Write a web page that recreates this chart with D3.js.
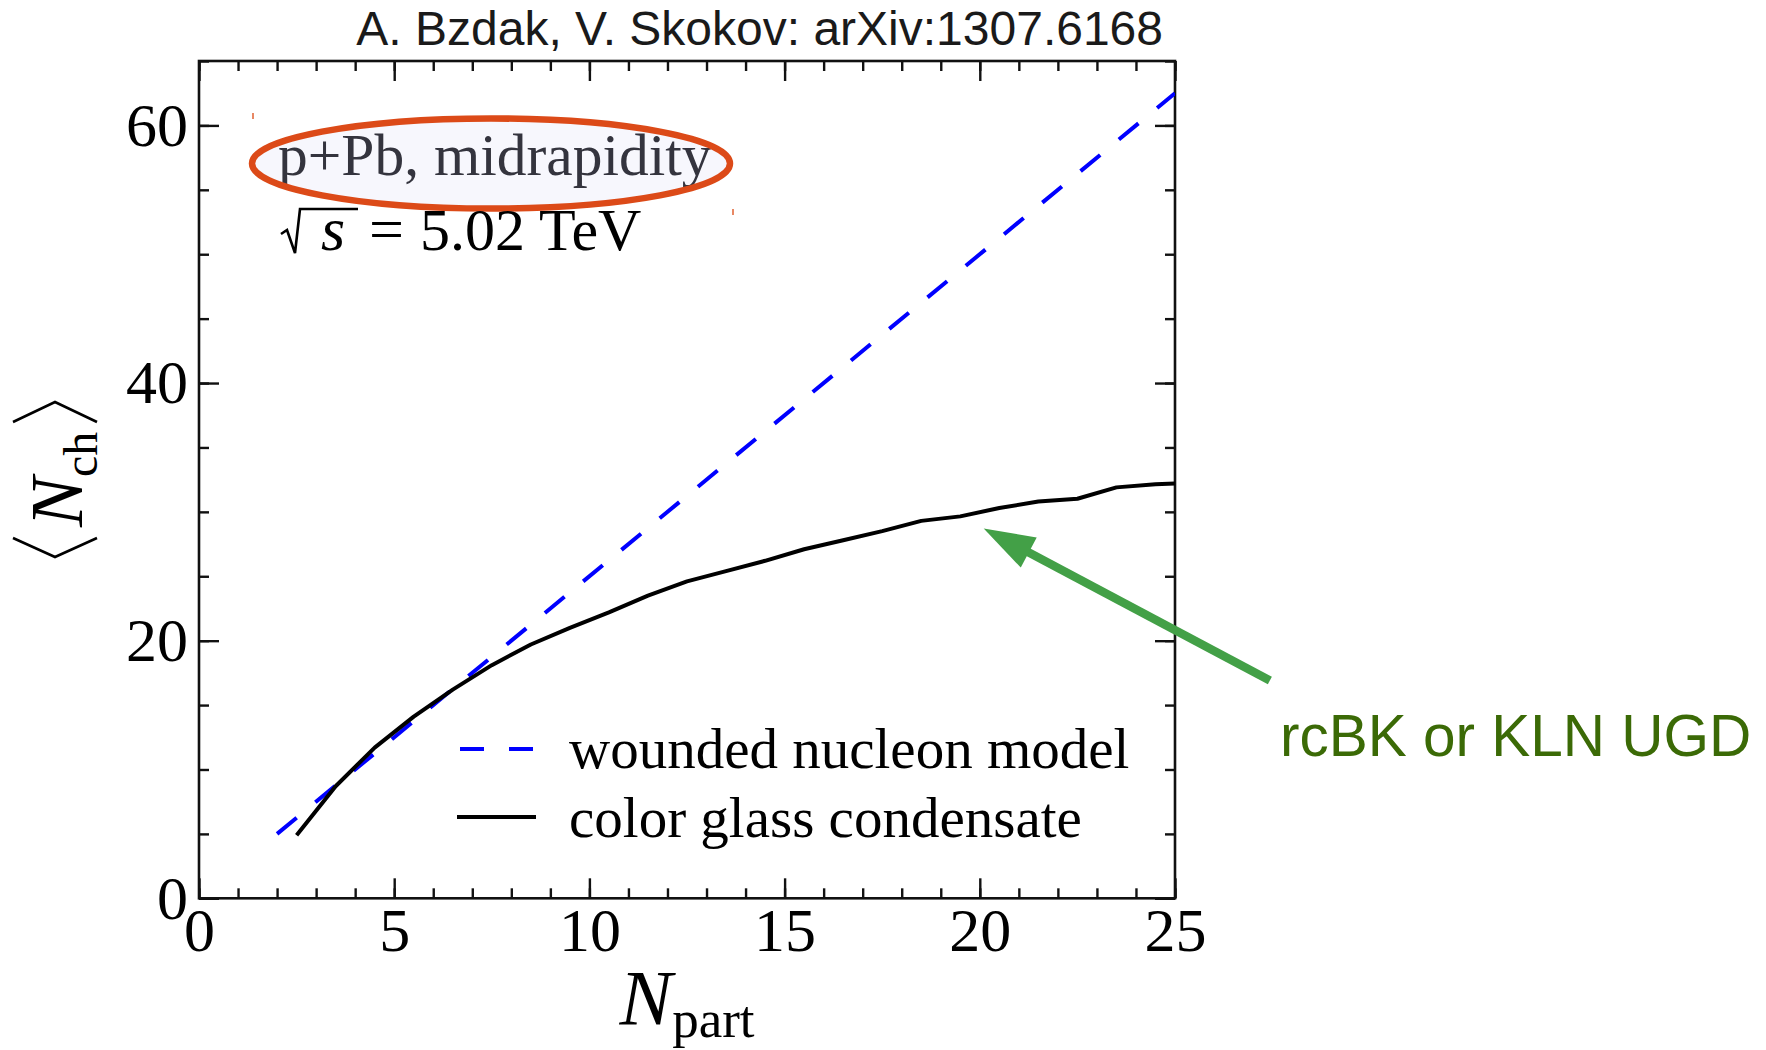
<!DOCTYPE html>
<html>
<head>
<meta charset="utf-8">
<script src="https://cdn.jsdelivr.net/npm/d3@7"></script>
<style>
  html, body { margin: 0; padding: 0; background: #ffffff; }
  svg { display: block; }
</style>
</head>
<body>
<svg id="chart" width="1766" height="1050"></svg>
<script>
// Color glass condensate curve: <N_ch> versus N_part
const npartCGC = [2.5, 3.5, 4.5, 5.5, 6.5, 7.5, 8.5, 9.5, 10.5, 11.5, 12.5, 13.5,
                  14.5, 15.5, 16.5, 17.5, 18.5, 19.5, 20.5, 21.5, 22.5, 23.5, 24.5, 25];
const nchCGC   = [4.9, 8.7, 11.7, 14.1, 16.2, 18.1, 19.7, 21.0, 22.2, 23.5, 24.6, 25.4,
                  26.2, 27.1, 27.8, 28.5, 29.3, 29.65, 30.3, 30.8, 31.02, 31.9, 32.15, 32.2];

// Wounded nucleon model: straight line
const npartWNM = [2, 25];
const nchWNM   = [5, 62.5];

// Axis ticks
const xMajorTicks = [0, 5, 10, 15, 20, 25];
const xMinorTicks = d3.range(0, 26, 1);
const yMajorTicks = [0, 20, 40, 60];
const yMinorTicks = d3.range(0, 66, 5);

// Text
const headerText = "A. Bzdak, V. Skokov: arXiv:1307.6168";
const systemLabel = "p+Pb, midrapidity";
const energyLabel = "5.02 TeV";
const legendLabels = ["wounded nucleon model", "color glass condensate"];
const noteLabel = "rcBK or KLN UGD";

const serif = "'Liberation Serif', 'Times New Roman', serif";
const sans = "'Liberation Sans', Arial, sans-serif";

const svg = d3.select("#chart");
const plot = { left: 199, right: 1175, top: 61, bottom: 898.3 };

const x = d3.scaleLinear().domain([0, 25]).range([plot.left, plot.right]);
const y = d3.scaleLinear().domain([0, 65]).range([plot.bottom, plot.top]);

// Clip region for the data curves
svg.append("defs").append("clipPath").attr("id", "plotClip")
  .append("rect")
  .attr("x", plot.left).attr("y", plot.top)
  .attr("width", plot.right - plot.left).attr("height", plot.bottom - plot.top);

// Header
svg.append("text")
  .attr("x", 1163).attr("y", 45)
  .attr("text-anchor", "end")
  .style("font-family", sans).style("font-size", "48px")
  .attr("fill", "#1a1a1a")
  .text(headerText);

// Axes: ticks point inward on all four sides
function styleAxis(g) {
  g.selectAll(".domain").remove();
  g.selectAll(".tick line").attr("stroke", "#111").attr("stroke-width", 2.4);
  g.selectAll(".tick text")
    .style("font-family", serif).style("font-size", "62px").attr("fill", "#000");
}

// bottom minor + major
svg.append("g").attr("transform", `translate(0,${plot.bottom})`)
  .call(d3.axisBottom(x).tickValues(xMinorTicks).tickSizeInner(-10).tickSizeOuter(0).tickFormat(""))
  .call(styleAxis);
svg.append("g").attr("transform", `translate(0,${plot.bottom})`)
  .call(d3.axisBottom(x).tickValues(xMajorTicks).tickSizeInner(-20).tickSizeOuter(0).tickPadding(9)
    .tickFormat(d3.format("d")))
  .call(styleAxis);
// top
svg.append("g").attr("transform", `translate(0,${plot.top})`)
  .call(d3.axisTop(x).tickValues(xMinorTicks).tickSizeInner(-10).tickSizeOuter(0).tickFormat(""))
  .call(styleAxis);
svg.append("g").attr("transform", `translate(0,${plot.top})`)
  .call(d3.axisTop(x).tickValues(xMajorTicks).tickSizeInner(-20).tickSizeOuter(0).tickFormat(""))
  .call(styleAxis);
// left
svg.append("g").attr("transform", `translate(${plot.left},0)`)
  .call(d3.axisLeft(y).tickValues(yMinorTicks).tickSizeInner(-10).tickSizeOuter(0).tickFormat(""))
  .call(styleAxis);
svg.append("g").attr("transform", `translate(${plot.left},0)`)
  .call(d3.axisLeft(y).tickValues(yMajorTicks).tickSizeInner(-20).tickSizeOuter(0).tickPadding(11)
    .tickFormat(d3.format("d")))
  .call(styleAxis);
// right
svg.append("g").attr("transform", `translate(${plot.right},0)`)
  .call(d3.axisRight(y).tickValues(yMinorTicks).tickSizeInner(-10).tickSizeOuter(0).tickFormat(""))
  .call(styleAxis);
svg.append("g").attr("transform", `translate(${plot.right},0)`)
  .call(d3.axisRight(y).tickValues(yMajorTicks).tickSizeInner(-20).tickSizeOuter(0).tickFormat(""))
  .call(styleAxis);

// Frame
svg.append("rect")
  .attr("x", plot.left).attr("y", plot.top)
  .attr("width", plot.right - plot.left).attr("height", plot.bottom - plot.top)
  .attr("fill", "none").attr("stroke", "#111").attr("stroke-width", 2.6);

// Curves
const line = d3.line().x(d => x(d[0])).y(d => y(d[1]));
const curves = svg.append("g").attr("clip-path", "url(#plotClip)");

curves.append("path")
  .datum(npartWNM.map((v, i) => [v, nchWNM[i]]))
  .attr("d", line)
  .attr("fill", "none").attr("stroke", "#0000ff").attr("stroke-width", 4)
  .attr("stroke-dasharray", "25.4,24.2");

curves.append("path")
  .datum(npartCGC.map((v, i) => [v, nchCGC[i]]))
  .attr("d", line)
  .attr("fill", "none").attr("stroke", "#000").attr("stroke-width", 4)
  .attr("stroke-linejoin", "round");

// Legend
const legend = svg.append("g");
legend.append("line")
  .attr("x1", 460).attr("x2", 536).attr("y1", 749).attr("y2", 749)
  .attr("stroke", "#0000ff").attr("stroke-width", 4).attr("stroke-dasharray", "24,25");
legend.append("line")
  .attr("x1", 457).attr("x2", 536).attr("y1", 817).attr("y2", 817)
  .attr("stroke", "#000").attr("stroke-width", 4);
legend.selectAll("text.lab").data(legendLabels).enter().append("text")
  .attr("class", "lab")
  .attr("x", 569).attr("y", (d, i) => 768 + i * 68.5)
  .style("font-family", serif).style("font-size", "57px").attr("fill", "#000")
  .text(d => d);

// System label with highlight ellipse
svg.append("ellipse")
  .attr("cx", 491).attr("cy", 163.5).attr("rx", 239).attr("ry", 45)
  .attr("fill", "#f7f7fd").attr("stroke", "none");
svg.append("text")
  .attr("x", 278).attr("y", 175)
  .style("font-family", serif).style("font-size", "59.5px").attr("fill", "#34343e")
  .text(systemLabel);
svg.append("ellipse")
  .attr("cx", 491).attr("cy", 163.5).attr("rx", 239).attr("ry", 45)
  .attr("fill", "none").attr("stroke", "#dc4a18").attr("stroke-width", 6.5);
svg.append("line").attr("x1", 253).attr("x2", 253).attr("y1", 113).attr("y2", 119)
  .attr("stroke", "#e06030").attr("stroke-width", 1.5);
svg.append("line").attr("x1", 733).attr("x2", 733).attr("y1", 209).attr("y2", 215)
  .attr("stroke", "#e06030").attr("stroke-width", 1.5);

// sqrt(s) = 5.02 TeV
svg.append("path")
  .attr("d", "M281,234 L287,230 L295,253 L300,209 L358,209")
  .attr("fill", "none").attr("stroke", "#000").attr("stroke-width", 2.6)
  .attr("stroke-linejoin", "miter");
svg.append("text")
  .attr("x", 321).attr("y", 250)
  .style("font-family", serif).style("font-size", "62px").style("font-style", "italic")
  .attr("fill", "#000").text("s");
svg.append("text")
  .attr("x", 369).attr("y", 250)
  .style("font-family", serif).style("font-size", "62px")
  .attr("fill", "#000").text("=");
svg.append("text")
  .attr("x", 420).attr("y", 250)
  .style("font-family", serif).style("font-size", "60px")
  .attr("fill", "#000").text(energyLabel);

// X axis title: N_part
const xt = svg.append("text")
  .attr("x", (plot.left + plot.right) / 2).attr("y", 1024)
  .attr("text-anchor", "middle")
  .style("font-family", serif).attr("fill", "#000");
xt.append("tspan").style("font-size", "79px").style("font-style", "italic").text("N");
xt.append("tspan").style("font-size", "53px").attr("dy", 13).text("part");

// Y axis title: <N_ch>
const yt = svg.append("text")
  .attr("transform", "translate(82,527) rotate(-90)")
  .style("font-family", serif).attr("fill", "#000");
yt.append("tspan").style("font-size", "75px").style("font-style", "italic").text("N");
yt.append("tspan").style("font-size", "48px").attr("dy", 15).text("ch");
// angle brackets around the symbol
svg.append("path").attr("d", "M13,538 L55,557 L97,538")
  .attr("fill", "none").attr("stroke", "#000").attr("stroke-width", 2.6);
svg.append("path").attr("d", "M13,422 L55,402 L97,422")
  .attr("fill", "none").attr("stroke", "#000").attr("stroke-width", 2.6);

// Annotation arrow pointing at the CGC curve
const tip = [x(20.1), y(28.7)];
const tail = [x(27.43), y(16.9)];
const dx = tip[0] - tail[0], dy = tip[1] - tail[1];
const len = Math.hypot(dx, dy);
const ux = dx / len, uy = dy / len;
const headLen = 51, headHalf = 17;
const base = [tip[0] - ux * headLen, tip[1] - uy * headLen];
svg.append("line")
  .attr("x1", tail[0]).attr("y1", tail[1])
  .attr("x2", base[0] + ux * 2).attr("y2", base[1] + uy * 2)
  .attr("stroke", "#43a047").attr("stroke-width", 8.5);
svg.append("polygon")
  .attr("points", [
    tip,
    [base[0] - uy * headHalf, base[1] + ux * headHalf],
    [base[0] + uy * headHalf, base[1] - ux * headHalf]
  ].map(p => p.join(",")).join(" "))
  .attr("fill", "#43a047");

svg.append("text")
  .attr("x", 1280).attr("y", 756)
  .style("font-family", sans).style("font-size", "58.5px")
  .attr("fill", "#3b6a06")
  .text(noteLabel);
</script>
</body>
</html>
